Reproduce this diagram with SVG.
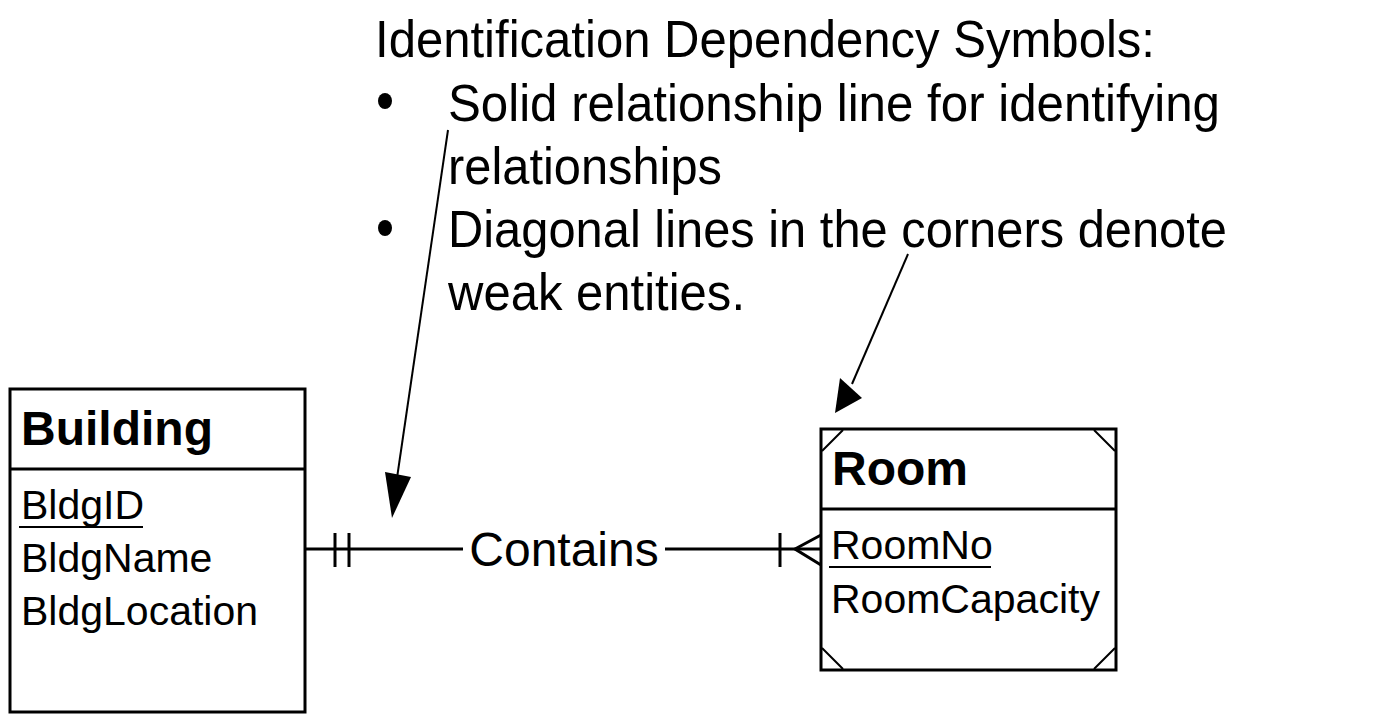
<svg xmlns="http://www.w3.org/2000/svg" width="1379" height="725" viewBox="0 0 1379 725">
<style>
text{font-family:"Liberation Sans",Arial,sans-serif;fill:#000}
.note{font-size:52px}
.title{font-size:48px;font-weight:bold}
.attr{font-size:41px}
.box{fill:#fff;stroke:#000;stroke-width:3}
.ln{stroke:#000;stroke-width:3;fill:none}
.thin{stroke:#000;stroke-width:2;fill:none}
</style>
<rect width="1379" height="725" fill="#fff"/>
<g id="note">
<text class="note" x="375" y="57" textLength="780" lengthAdjust="spacingAndGlyphs">Identification Dependency Symbols:</text>
<ellipse cx="385" cy="101" rx="7" ry="8"/>
<text class="note" x="448" y="121" textLength="772" lengthAdjust="spacingAndGlyphs">Solid relationship line for identifying</text>
<text class="note" x="448" y="184" textLength="274" lengthAdjust="spacingAndGlyphs">relationships</text>
<ellipse cx="385" cy="228" rx="7" ry="8"/>
<text class="note" x="448" y="247" textLength="779" lengthAdjust="spacingAndGlyphs">Diagonal lines in the corners denote</text>
<text class="note" x="448" y="310" textLength="297" lengthAdjust="spacingAndGlyphs">weak entities.</text>
</g>
<g id="building">
<rect class="box" x="10" y="389" width="295" height="323"/>
<line class="ln" x1="10" y1="469" x2="305" y2="469"/>
<text class="title" x="21" y="445">Building</text>
<text class="attr" x="21" y="519">BldgID</text>
<line x1="19" y1="527" x2="143" y2="527" stroke="#000" stroke-width="2"/>
<text class="attr" x="21" y="572">BldgName</text>
<text class="attr" x="21" y="625">BldgLocation</text>
</g>
<g id="room">
<rect class="box" x="821" y="429" width="295" height="241"/>
<line class="ln" x1="821" y1="509" x2="1116" y2="509"/>
<path class="thin" d="M822,451 L843,430 M1094,430 L1115,451 M822,648 L843,669 M1094,669 L1115,648"/>
<text class="title" x="832" y="485">Room</text>
<text class="attr" x="831" y="559">RoomNo</text>
<line x1="829" y1="567" x2="991" y2="567" stroke="#000" stroke-width="2"/>
<text class="attr" x="831" y="613">RoomCapacity</text>
</g>
<g id="connectors">
<line class="ln" x1="305" y1="549" x2="463" y2="549"/>
<line class="ln" x1="665" y1="549" x2="821" y2="549"/>
<line class="ln" x1="335" y1="533" x2="335" y2="567"/>
<line class="ln" x1="349" y1="533" x2="349" y2="567"/>
<line class="ln" x1="780" y1="533" x2="780" y2="567"/>
<path class="ln" d="M821,535 L795,549 L821,565"/>
<text x="564" y="566" font-size="48" text-anchor="middle">Contains</text>
<line class="thin" x1="448" y1="130" x2="397" y2="478"/>
<polygon points="385,472 411,477 392,518"/>
<line class="thin" x1="908" y1="254" x2="852" y2="384"/>
<polygon points="840,378 862,398 835,413"/>
</g>
</svg>
